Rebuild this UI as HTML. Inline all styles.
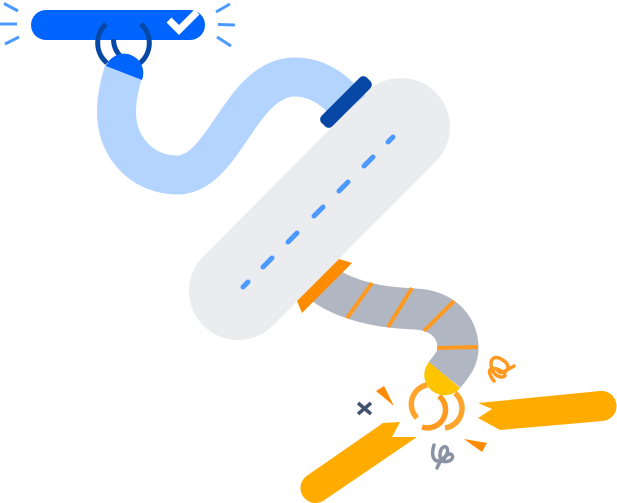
<!DOCTYPE html>
<html><head><meta charset="utf-8"><style>html,body{margin:0;padding:0;background:#fff}svg{display:block}</style></head>
<body>
<svg width="617" height="503" viewBox="0 0 617 503" xmlns="http://www.w3.org/2000/svg" fill="none">
<!-- road -->
<line x1="238" y1="291" x2="401" y2="127" stroke="#EBECF0" stroke-width="98" stroke-linecap="round"/>
<g stroke="#4C9AFF" stroke-width="5" stroke-linecap="round">
<line x1="243" y1="287" x2="248" y2="282"/>
<line x1="263" y1="267" x2="272" y2="258"/>
<line x1="288" y1="242" x2="297" y2="233"/>
<line x1="314" y1="216" x2="323" y2="207"/>
<line x1="339" y1="191" x2="348" y2="182"/>
<line x1="364" y1="166" x2="373" y2="157"/>
<line x1="388" y1="142" x2="393" y2="137"/>
</g>
<!-- blue tube -->
<path d="M124,70 C119,86 116.500,100 116.500,112 C116.500,150 145,175 177,175 C225,175 240,77 295,77 C320,77 338,93 350,108" stroke="#B3D4FF" stroke-width="39"/>
<rect x="314" y="94.500" width="64" height="15" rx="5" transform="rotate(-45 346 102)" fill="#0747A6"/>
<!-- top bar -->
<rect x="31" y="10" width="174" height="30" rx="15" fill="#0065FF"/>
<path d="M169,20 L179,30 L197,12" stroke="#fff" stroke-width="7"/>
<g stroke="#4C9AFF" stroke-width="3">
<line x1="4" y1="3.500" x2="18" y2="11"/><line x1="0" y1="24" x2="17" y2="24"/><line x1="5" y1="44" x2="19" y2="37"/>
<line x1="216" y1="12" x2="230" y2="4"/><line x1="218" y1="24.500" x2="235" y2="25"/><line x1="217" y1="37" x2="231" y2="46"/>
</g>
<g stroke="#0747A6" stroke-width="5">
<path d="M106,24 A26,26 0 0 0 107,63"/>
<path d="M141,24 A26,26 0 0 1 140,63"/>
<path d="M113.500,39 C113.500,47 117,54 124,59"/>
</g>
<path d="M106,66 A18.500,18.500 0 1 1 142,80 Z" fill="#0065FF"/>
<!-- grey tube -->
<path d="M322,283 C340,297 370,306 400,308 L415,309 C440,310 458,325 458,348 C458,358 454,363 444.500,375" stroke="#B0B6C2" stroke-width="41"/>
<g stroke="#FF991F" stroke-width="4">
<line x1="372" y1="283" x2="347" y2="318"/>
<line x1="412" y1="288" x2="388" y2="327"/>
<line x1="454" y1="301" x2="424" y2="331"/>
<line x1="437" y1="348" x2="478" y2="347"/>
</g>
<polygon points="339,259 352,263 302,313 297,301" fill="#FF8B00"/>
<!-- rings -->
<path d="M417,418 A19.600,19.600 0 0 1 427,385" stroke="#FFA52E" stroke-width="5.500"/>
<path d="M439,396 A18,18 0 0 1 422,427" stroke="#FF991F" stroke-width="5.500"/>
<path d="M455,393 A20,20 0 0 1 445,428" stroke="#FFA52E" stroke-width="5.500"/>
<path d="M429,362 A19,19 0 1 0 460,388 Z" fill="#FFC400"/>
<!-- rods -->
<path d="M478,403 L600,391 A15,15 0 0 1 603,421 L500,430 L478,418 L492,409 Z" fill="#FFAB00"/>
<path d="M400,422 L383,423 L308,475 A15,15 0 0 0 323,501 L417,437 L392,437 Z" fill="#FFAB00"/>
<polygon points="376,391 384,386 394,406" fill="#FF8B00"/>
<polygon points="464,439 487,443 482,452" fill="#FF8B00"/>
<g stroke="#42526E" stroke-width="3.500"><line x1="358" y1="403" x2="371" y2="414"/><line x1="371" y1="403" x2="358" y2="414"/></g>
<path d="M494,381 C490,376 488,371 491,369 C494,367 504,371 505,375 C505,378 498,378 494,373 C490,367 490,360 494,358 C498,356 508,362 508,367 C508,372 501,374 498,371 M505,371 L514,366" stroke="#FF991F" stroke-width="3.500" stroke-linecap="round"/>
<path d="M434,445 C431,455 433,462 440,461 C446,459 450,450 446,447 C442,445 438,453 441,460 C445,464 455,460 452,455 C449,451 440,460 437,468" stroke="#8993A4" stroke-width="3.500" stroke-linecap="round"/>
</svg>
</body></html>
